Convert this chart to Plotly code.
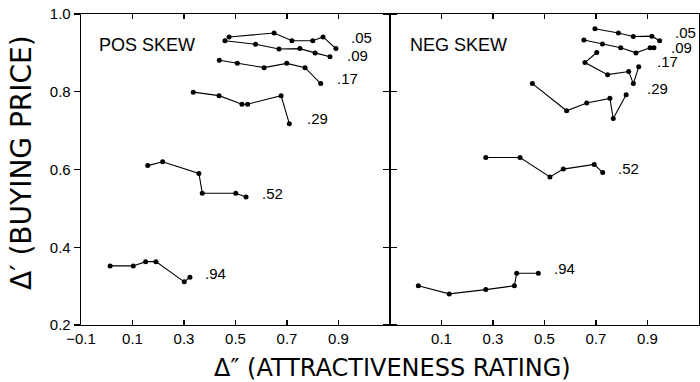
import plotly.graph_objects as go

# ---------------- data ----------------
series_labels = [".05", ".09", ".17", ".29", ".52", ".94"]

pos_x = [
    [0.475, 0.650, 0.719, 0.800, 0.840, 0.890],
    [0.459, 0.578, 0.669, 0.750, 0.809, 0.867],
    [0.437, 0.507, 0.611, 0.699, 0.770, 0.831],
    [0.336, 0.436, 0.525, 0.547, 0.677, 0.709],
    [0.159, 0.217, 0.358, 0.371, 0.501, 0.541],
    [0.013, 0.103, 0.151, 0.191, 0.301, 0.323],
]
pos_y = [
    [0.941, 0.951, 0.931, 0.931, 0.941, 0.911],
    [0.931, 0.922, 0.910, 0.911, 0.900, 0.890],
    [0.881, 0.873, 0.862, 0.873, 0.862, 0.821],
    [0.799, 0.790, 0.768, 0.768, 0.790, 0.718],
    [0.610, 0.620, 0.590, 0.539, 0.539, 0.529],
    [0.352, 0.352, 0.363, 0.363, 0.311, 0.323],
]
neg_x = [
    [0.696, 0.787, 0.845, 0.917, 0.947],
    [0.653, 0.725, 0.796, 0.855, 0.910, 0.925],
    [0.703, 0.657, 0.745, 0.827, 0.845, 0.866],
    [0.453, 0.586, 0.664, 0.754, 0.767, 0.817],
    [0.272, 0.405, 0.521, 0.573, 0.693, 0.726],
    [0.010, 0.130, 0.272, 0.383, 0.392, 0.476],
]
neg_y = [
    [0.962, 0.951, 0.942, 0.943, 0.931],
    [0.933, 0.923, 0.913, 0.900, 0.913, 0.913],
    [0.901, 0.875, 0.844, 0.852, 0.821, 0.864],
    [0.821, 0.751, 0.771, 0.783, 0.731, 0.792],
    [0.631, 0.631, 0.581, 0.601, 0.613, 0.592],
    [0.301, 0.280, 0.291, 0.301, 0.333, 0.333],
]

x_tickvals_left = [-0.1, 0.1, 0.3, 0.5, 0.7, 0.9, 1.1]
x_ticktext_left = ["\u22120.1", "0.1", "0.3", "0.5", "0.7", "0.9", ""]
x_tickvals_right = [-0.1, 0.1, 0.3, 0.5, 0.7, 0.9, 1.1]
x_ticktext_right = ["", "0.1", "0.3", "0.5", "0.7", "0.9", "1.1"]
y_tickvals = [0.2, 0.4, 0.6, 0.8, 1.0]
y_ticktext = ["0.2", "0.4", "0.6", "0.8", "1.0"]

panel_titles = ["POS SKEW", "NEG SKEW"]
x_title = "\u0394\u2033 (ATTRACTIVENESS RATING)"
y_title = "\u0394\u2032 (BUYING PRICE)"

# ---------------- style ----------------
FONT = "Liberation Sans, Arial, Helvetica, sans-serif"
TITLE_FONT = "DejaVu Sans, Liberation Sans, sans-serif"
W, H = 700, 382
# label pixel offsets (xshift, yshift) from last point of each curve
pos_label_shift = [(26, 11), (27, 1), (27, 5), (28, 5), (26, 4), (26, 4)]
neg_label_shift = [(26, 8), (28, 0), (29, 5), (31, 6), (26, 4), (26, 5)]

fig = go.Figure()

def add_panel(xs, ys, xref, yref, shifts):
    for lab, xv, yv, (dx, dy) in zip(series_labels, xs, ys, shifts):
        fig.add_trace(go.Scatter(
            x=xv, y=yv, mode="lines+markers",
            line=dict(color="black", width=1.1),
            marker=dict(color="black", size=5),
            xaxis=xref, yaxis=yref, showlegend=False, hoverinfo="skip",
            cliponaxis=False))
        fig.add_annotation(
            x=xv[-1], y=yv[-1], xref=xref, yref=yref, text=lab,
            showarrow=False, xshift=dx, yshift=dy,
            xanchor="center", yanchor="middle",
            font=dict(family=FONT, size=15, color="black"))

add_panel(pos_x, pos_y, "x", "y", pos_label_shift)
add_panel(neg_x, neg_y, "x2", "y2", neg_label_shift)

ydom = [1 - 325 / H, 1 - 14 / H]
axis_common = dict(showline=True, linecolor="black", linewidth=1.3,
                   showgrid=False, zeroline=False, mirror="ticks",
                   automargin=False,
                   tickcolor="black", tickwidth=1.2,
                   tickfont=dict(family=FONT, size=15, color="black"))

fig.update_layout(
    width=W, height=H,
    margin=dict(l=0, r=0, t=0, b=0, autoexpand=False),
    paper_bgcolor="white", plot_bgcolor="white",
    xaxis=dict(domain=[81 / W, 390 / W], range=[-0.1, 1.1], anchor="y",
               tickvals=x_tickvals_left, ticktext=x_ticktext_left,
               ticks="inside", ticklen=5, **axis_common),
    yaxis=dict(domain=ydom, range=[0.2, 1.0], anchor="x",
               tickvals=y_tickvals, ticktext=y_ticktext,
               ticks="outside", ticklen=6, **axis_common),
    xaxis2=dict(domain=[390 / W, 699 / W], range=[-0.1, 1.1], anchor="y2",
                tickvals=x_tickvals_right, ticktext=x_ticktext_right,
                ticks="inside", ticklen=5, **axis_common),
    yaxis2=dict(domain=ydom, range=[0.2, 1.0], anchor="x2",
                tickvals=y_tickvals, showticklabels=False,
                ticks="outside", ticklen=6, **axis_common),
)

# panel titles
fig.add_annotation(x=97 / W, y=1 - 45 / H, xref="paper", yref="paper",
                   text=panel_titles[0], showarrow=False,
                   xanchor="left", yanchor="middle",
                   font=dict(family=FONT, size=18, color="black"))
fig.add_annotation(x=408 / W, y=1 - 45 / H, xref="paper", yref="paper",
                   text=panel_titles[1], showarrow=False,
                   xanchor="left", yanchor="middle",
                   font=dict(family=FONT, size=18, color="black"))

# axis titles
fig.add_annotation(x=392 / W, y=1 - 368 / H, xref="paper", yref="paper",
                   text=x_title, showarrow=False,
                   xanchor="center", yanchor="middle",
                   font=dict(family=TITLE_FONT, size=24, color="black"))
fig.add_annotation(x=21 / W, y=1 - 163 / H, xref="paper", yref="paper",
                   text=y_title, showarrow=False, textangle=-90,
                   xanchor="center", yanchor="middle",
                   font=dict(family=TITLE_FONT, size=28, color="black"))

fig.write_html("out.html",
               config={"displayModeBar": False, "staticPlot": True},
               post_script="document.body.style.margin='0';")
